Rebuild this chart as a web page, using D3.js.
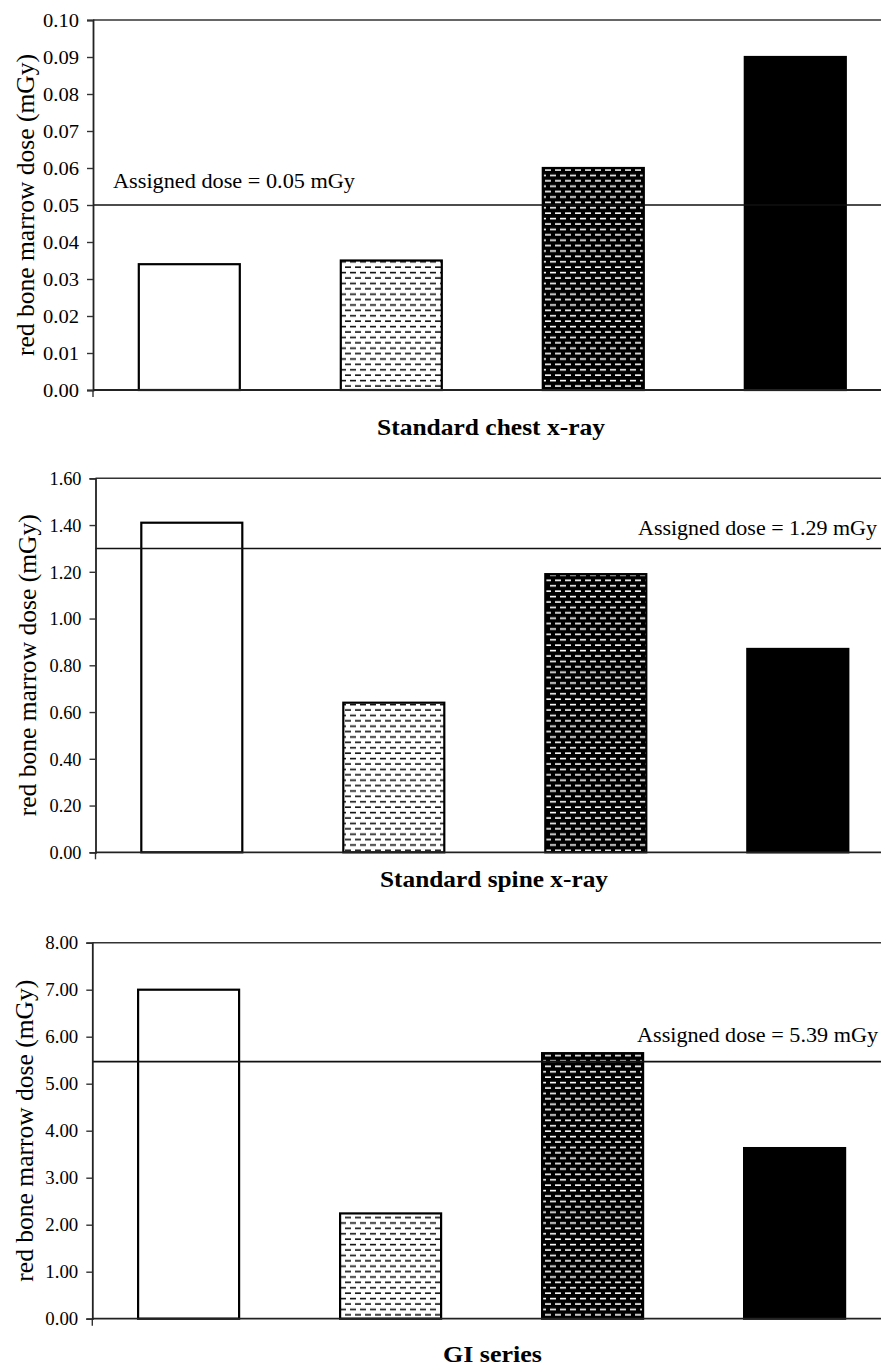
<!DOCTYPE html>
<html>
<head>
<meta charset="utf-8">
<script src="https://cdn.jsdelivr.net/npm/d3@7/dist/d3.min.js"></script>
<style>
  html, body { margin: 0; padding: 0; background: #fff; }
  svg { display: block; font-family: "Liberation Serif", "Times New Roman", serif; }
</style>
</head>
<body>
<svg id="chart" width="881" height="1368"></svg>
<script>
// ---------------- data ----------------
const panelTitles = ["Standard chest x-ray", "Standard spine x-ray", "GI series"];
const yAxisTitle = "red bone marrow dose (mGy)";
const categories = ["bar1", "bar2", "bar3", "bar4"];
const barFills = ["white", "light", "dark", "black"];

const chestValues = [0.034, 0.035, 0.060, 0.090];
const spineValues = [1.41, 0.64, 1.19, 0.87];
const giValues = [7.00, 2.24, 5.65, 3.63];

const assignedLineValues = [0.05, 1.30, 5.47];
const assignedLabels = ["Assigned dose = 0.05 mGy", "Assigned dose = 1.29 mGy", "Assigned dose = 5.39 mGy"];

const chestTicks = [0.00, 0.01, 0.02, 0.03, 0.04, 0.05, 0.06, 0.07, 0.08, 0.09, 0.10];
const spineTicks = [0.00, 0.20, 0.40, 0.60, 0.80, 1.00, 1.20, 1.40, 1.60];
const giTicks = [0.00, 1.00, 2.00, 3.00, 4.00, 5.00, 6.00, 7.00, 8.00];

// ---------------- layout ----------------
const layout = [
  { left: 93,   top: 20,    bottom: 390,    titleX: 491,   titleY: 435,  titleLen: 228,
    labelX: 113, labelY: 188,  labelAnchor: "start", labelLen: 242, tickLen: 36 },
  { left: 95.5, top: 478.3, bottom: 852.3,  titleX: 494,   titleY: 887,  titleLen: 228,
    labelX: 877, labelY: 535,  labelAnchor: "end",   labelLen: 239, tickLen: 32 },
  { left: 92.3, top: 942.7, bottom: 1318.7, titleX: 492.5, titleY: 1362, titleLen: 99,
    labelX: 878, labelY: 1042, labelAnchor: "end",   labelLen: 241, tickLen: 33 }
];
const panelValues = [chestValues, spineValues, giValues];
const panelTicks = [chestTicks, spineTicks, giTicks];

const svg = d3.select("#chart");
const defs = svg.append("defs");

function dashPattern(id, bg, fg) {
  const p = defs.append("pattern")
    .attr("id", id)
    .attr("patternUnits", "userSpaceOnUse")
    .attr("width", 10).attr("height", 10.8);
  p.append("rect").attr("width", 10).attr("height", 10.8).attr("fill", bg);
  p.append("rect").attr("x", 0).attr("y", 1.8).attr("width", 6).attr("height", 1.6).attr("fill", fg);
  p.append("rect").attr("x", 5).attr("y", 7.2).attr("width", 6).attr("height", 1.6).attr("fill", fg);
  p.append("rect").attr("x", -5).attr("y", 7.2).attr("width", 6).attr("height", 1.6).attr("fill", fg);
}
dashPattern("dashLight", "#fff", "#111");
dashPattern("dashDark", "#000", "#fff");

const fillFor = { white: "#fff", light: "url(#dashLight)", dark: "url(#dashDark)", black: "#000" };
const serif = "Liberation Serif, Times New Roman, serif";

layout.forEach((L, i) => {
  const values = panelValues[i];
  const ticks = panelTicks[i];
  const g = svg.append("g");

  const y = d3.scaleLinear()
    .domain([0, ticks[ticks.length - 1]])
    .range([L.bottom, L.top]);

  const step = 202;
  const x = d3.scaleBand()
    .domain(categories)
    .range([L.left - 4.7, L.left - 4.7 + 4 * step])
    .paddingInner(0.5)
    .paddingOuter(0.25);

  const rightEdge = 900;

  // top border of plot area
  g.append("line")
    .attr("x1", L.left).attr("x2", rightEdge)
    .attr("y1", L.top).attr("y2", L.top)
    .attr("stroke", "#333").attr("stroke-width", 1.6);

  // bars
  g.selectAll("rect.bar")
    .data(values)
    .join("rect")
    .attr("class", "bar")
    .attr("x", (d, j) => x(categories[j]))
    .attr("width", x.bandwidth())
    .attr("y", d => y(d))
    .attr("height", d => L.bottom - y(d))
    .attr("fill", (d, j) => fillFor[barFills[j]])
    .attr("stroke", "#000")
    .attr("stroke-width", 2.2);

  // assigned dose line
  g.append("line")
    .attr("x1", L.left).attr("x2", rightEdge)
    .attr("y1", y(assignedLineValues[i])).attr("y2", y(assignedLineValues[i]))
    .attr("stroke", "#111").attr("stroke-width", 1.6);

  g.append("text")
    .attr("x", L.labelX).attr("y", L.labelY)
    .attr("text-anchor", L.labelAnchor)
    .attr("font-family", serif)
    .attr("font-size", 21)
    .attr("textLength", L.labelLen)
    .attr("lengthAdjust", "spacingAndGlyphs")
    .attr("fill", "#000")
    .text(assignedLabels[i]);

  // bottom axis line
  g.append("line")
    .attr("x1", L.left).attr("x2", rightEdge)
    .attr("y1", L.bottom).attr("y2", L.bottom)
    .attr("stroke", "#222").attr("stroke-width", 1.8);
  // small category tick at the left end
  g.append("line")
    .attr("x1", L.left).attr("x2", L.left)
    .attr("y1", L.bottom).attr("y2", L.bottom + 7)
    .attr("stroke", "#333").attr("stroke-width", 1.4);

  // y axis
  const yAxis = d3.axisLeft(y)
    .tickValues(ticks)
    .tickFormat(d3.format(".2f"))
    .tickSize(6)
    .tickPadding(8);
  const ga = g.append("g")
    .attr("transform", `translate(${L.left},0)`)
    .call(yAxis);
  ga.attr("font-family", serif);
  ga.select(".domain").attr("stroke", "#222").attr("stroke-width", 1.8);
  ga.selectAll(".tick line").attr("stroke", "#333").attr("stroke-width", 1.4);
  ga.selectAll(".tick text")
    .attr("font-family", serif)
    .attr("font-size", 19.5)
    .attr("fill", "#000")
    .attr("textLength", L.tickLen)
    .attr("lengthAdjust", "spacingAndGlyphs");

  // y axis title
  g.append("text")
    .attr("transform", `translate(${L.left - 68},${(L.top + L.bottom) / 2}) rotate(-90)`)
    .attr("text-anchor", "middle")
    .attr("dominant-baseline", "central")
    .attr("font-family", serif)
    .attr("font-size", 26)
    .attr("textLength", 302)
    .attr("lengthAdjust", "spacingAndGlyphs")
    .attr("fill", "#000")
    .text(yAxisTitle);

  // panel title
  g.append("text")
    .attr("x", L.titleX).attr("y", L.titleY)
    .attr("text-anchor", "middle")
    .attr("font-family", serif)
    .attr("font-size", 23.5)
    .attr("font-weight", "bold")
    .attr("textLength", L.titleLen)
    .attr("lengthAdjust", "spacingAndGlyphs")
    .attr("fill", "#000")
    .text(panelTitles[i]);
});
</script>
</body>
</html>
